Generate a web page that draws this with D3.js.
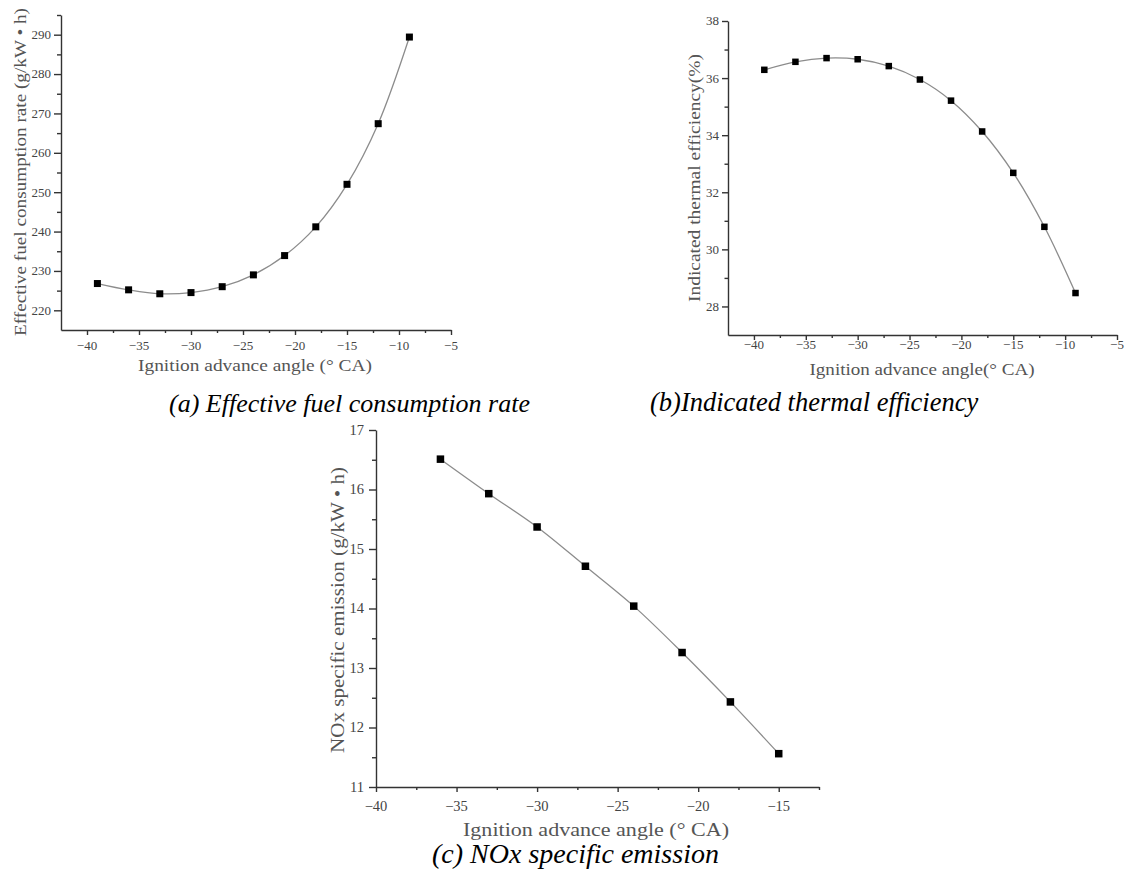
<!DOCTYPE html>
<html>
<head>
<meta charset="utf-8">
<script src="https://cdn.jsdelivr.net/npm/d3@7"></script>
<style>
  html, body { margin: 0; padding: 0; background: #fff; }
  svg { display: block; }
</style>
</head>
<body>
<svg id="chart" width="1125" height="870"></svg>
<script>
// ---------------- data ----------------
const angleA = [-39, -36, -33, -30, -27, -24, -21, -18, -15, -12, -9];
const fuelRate = [226.8, 225.2, 224.2, 224.5, 226.0, 229.0, 233.9, 241.2, 252.0, 267.4, 289.4];

const angleB = [-39, -36, -33, -30, -27, -24, -21, -18, -15, -12, -9];
const thermalEff = [36.29, 36.57, 36.70, 36.66, 36.42, 35.95, 35.21, 34.13, 32.68, 30.79, 28.47];

const angleC = [-36, -33, -30, -27, -24, -21, -18, -15];
const noxEmission = [16.51, 15.93, 15.37, 14.71, 14.04, 13.26, 12.43, 11.56];

const xTicksAB = [-40, -35, -30, -25, -20, -15, -10, -5];
const xMinorAB = [-37.5, -32.5, -27.5, -22.5, -17.5, -12.5, -7.5];
const yTicksA = [220, 230, 240, 250, 260, 270, 280, 290];
const yMinorA = [225, 235, 245, 255, 265, 275, 285, 295];
const yTicksB = [28, 30, 32, 34, 36, 38];
const yMinorB = [29, 31, 33, 35, 37];
const xTicksC = [-40, -35, -30, -25, -20, -15];
const xMinorC = [-37.5, -32.5, -27.5, -22.5, -17.5, -12.5];
const yTicksC = [11, 12, 13, 14, 15, 16, 17];
const yMinorC = [11.5, 12.5, 13.5, 14.5, 15.5, 16.5];

const xLabelA = "Ignition advance angle (° CA)";
const yLabelA = "Effective fuel consumption rate (g/kW • h)";
const xLabelB = "Ignition advance angle(° CA)";
const yLabelB = "Indicated thermal efficiency(%)";
const xLabelC = "Ignition advance angle (° CA)";
const yLabelC = "NOx specific emission (g/kW • h)";
const captionA = "(a) Effective fuel consumption rate";
const captionB = "(b)Indicated thermal efficiency";
const captionC = "(c) NOx specific emission";

// ---------------- drawing ----------------
const svg = d3.select("#chart");
const SERIF = "'Liberation Serif', 'Times New Roman', serif";
const fmt = d3.format("");

function title(g, x, y, rot, str, size, len) {
  g.append("text")
    .attr("transform", `translate(${x},${y}) rotate(${rot})`)
    .attr("text-anchor", "middle")
    .attr("font-family", SERIF)
    .attr("font-size", size)
    .attr("fill", "#555")
    .attr("textLength", len)
    .attr("lengthAdjust", "spacingAndGlyphs")
    .text(str);
}

function panel(cfg) {
  const g = svg.append("g");
  const x = d3.scaleLinear().domain(cfg.xDomain).range(cfg.xRange);
  const y = d3.scaleLinear().domain(cfg.yDomain).range(cfg.yRange);
  const axisY0 = cfg.yRange[0];
  const axisX0 = cfg.xRange[0];

  // x axis: major + minor ticks
  const gx = g.append("g").attr("transform", `translate(0,${axisY0})`);
  gx.call(d3.axisBottom(x).tickValues(cfg.xTicks).tickSize(cfg.xMajor).tickSizeOuter(0).tickFormat(""));
  const gxm = g.append("g").attr("transform", `translate(0,${axisY0})`);
  gxm.call(d3.axisBottom(x).tickValues(cfg.xMinor).tickSize(cfg.xMinorLen).tickSizeOuter(0).tickFormat(""));
  gxm.select(".domain").remove();

  // y axis
  const gy = g.append("g").attr("transform", `translate(${axisX0},0)`);
  gy.call(d3.axisLeft(y).tickValues(cfg.yTicks).tickSize(cfg.yMajor).tickSizeOuter(0).tickFormat(""));
  const gym = g.append("g").attr("transform", `translate(${axisX0},0)`);
  gym.call(d3.axisLeft(y).tickValues(cfg.yMinor).tickSize(cfg.yMinorLen).tickSizeOuter(0).tickFormat(""));
  gym.select(".domain").remove();

  g.selectAll(".domain, .tick line").attr("stroke", "#333").attr("stroke-width", 1.4);

  // tick labels
  g.append("g").selectAll("text").data(cfg.xTicks).enter().append("text")
    .attr("x", d => x(d)).attr("y", axisY0 + cfg.xLabOff)
    .attr("text-anchor", "middle")
    .attr("font-family", SERIF).attr("font-size", cfg.tickFont).attr("fill", "#444")
    .text(d => fmt(d));
  g.append("g").selectAll("text").data(cfg.yTicks).enter().append("text")
    .attr("x", axisX0 - cfg.yLabOff).attr("y", d => y(d)).attr("dy", "0.34em")
    .attr("text-anchor", "end")
    .attr("font-family", SERIF).attr("font-size", cfg.tickFont).attr("fill", "#444")
    .text(d => fmt(d));

  // axis titles
  title(g, cfg.xTitle[0], cfg.xTitle[1], 0, cfg.xLabel, cfg.labelFont, cfg.xTitle[2]);
  title(g, cfg.yTitle[0], cfg.yTitle[1], -90, cfg.yLabel, cfg.labelFont, cfg.yTitle[2]);

  // line
  const pts = cfg.xs.map((v, i) => [v, cfg.ys[i]]);
  const line = d3.line().x(d => x(d[0])).y(d => y(d[1])).curve(d3.curveCatmullRom.alpha(0.5));
  g.append("path").attr("d", line(pts)).attr("fill", "none").attr("stroke", "#8c8c8c").attr("stroke-width", 1.3);

  // markers
  const s = cfg.marker;
  g.selectAll("rect.m").data(pts).enter().append("rect")
    .attr("x", d => x(d[0]) - s / 2).attr("y", d => y(d[1]) - s / 2)
    .attr("width", s).attr("height", s).attr("fill", "#000");

  // caption
  svg.append("text")
    .attr("x", cfg.caption[0]).attr("y", cfg.caption[1])
    .attr("font-family", SERIF)
    .attr("font-style", "italic")
    .attr("font-size", cfg.captionFont)
    .attr("fill", "#000")
    .text(cfg.captionText);
}

panel({
  xDomain: [-42.5, -5], xRange: [61, 451],
  yDomain: [215, 295], yRange: [330, 15],
  xTicks: xTicksAB, xMinor: xMinorAB, yTicks: yTicksA, yMinor: yMinorA,
  xMajor: 5, xMinorLen: 3, yMajor: 7, yMinorLen: 4,
  tickFont: 13, labelFont: 16.5, xLabOff: 20, yLabOff: 10,
  xLabel: xLabelA, yLabel: yLabelA, xTitle: [255, 371, 234], yTitle: [26, 172, 328],
  xs: angleA, ys: fuelRate, marker: 7,
  caption: [169, 412], captionFont: 26, captionText: captionA
});

panel({
  xDomain: [-42.5, -5], xRange: [728, 1117],
  yDomain: [27, 38], yRange: [335, 21],
  xTicks: xTicksAB, xMinor: xMinorAB, yTicks: yTicksB, yMinor: yMinorB,
  xMajor: 5, xMinorLen: 3, yMajor: 6, yMinorLen: 3.5,
  tickFont: 13, labelFont: 16, xLabOff: 14, yLabOff: 9,
  xLabel: xLabelB, yLabel: yLabelB, xTitle: [922, 375, 225], yTitle: [700, 178, 248],
  xs: angleB, ys: thermalEff, marker: 6.5,
  caption: [650, 411], captionFont: 26.5, captionText: captionB
});

panel({
  xDomain: [-40, -12.5], xRange: [376, 819],
  yDomain: [11, 17], yRange: [787, 430],
  xTicks: xTicksC, xMinor: xMinorC, yTicks: yTicksC, yMinor: yMinorC,
  xMajor: 5, xMinorLen: 3, yMajor: 7, yMinorLen: 4,
  tickFont: 14.5, labelFont: 18, xLabOff: 24, yLabOff: 12,
  xLabel: xLabelC, yLabel: yLabelC, xTitle: [596, 836, 266], yTitle: [344, 610, 286],
  xs: angleC, ys: noxEmission, marker: 7.5,
  caption: [432, 863], captionFont: 28, captionText: captionC
});
</script>
</body>
</html>
